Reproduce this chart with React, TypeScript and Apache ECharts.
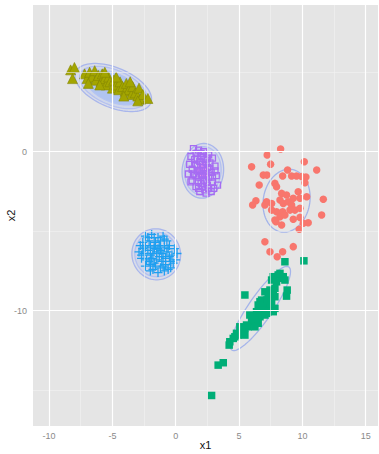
import React, { useEffect, useRef } from "react";
import * as echarts from "echarts";

// ---- data ----
const redPts: number[][] = [
  [8.28, 0.17], [7.22, -0.21], [7.49, -0.78], [5.99, -0.95], [10.15, -0.63], [11.13, -1.15],
  [8.83, -1.15], [6.91, -1.47], [7.2, -1.47], [8.44, -1.53], [9.15, -1.53], [9.54, -1.53],
  [9.94, -1.56], [10.28, -1.59], [10.2, -1.95], [7.83, -1.99], [6.59, -2.09], [7.96, -2.2],
  [8.36, -2.62], [8.75, -2.72], [9.67, -2.52], [9.28, -2.93], [9.81, -2.93], [10.34, -2.83],
  [11.65, -2.99], [6.33, -3.08], [6.07, -3.35], [7.17, -3.14], [7.57, -3.25], [8.23, -3.04],
  [8.49, -3.25], [8.88, -3.14], [9.15, -3.35], [7.04, -3.35], [7.57, -3.67], [7.96, -3.77],
  [8.44, -3.77], [9.02, -3.67], [9.41, -3.67], [9.81, -3.56], [8.23, -4.09], [8.62, -3.98],
  [7.83, -4.3], [9.28, -4.25], [9.81, -4.13], [11.52, -3.98], [8.36, -4.61], [7.91, -4.4],
  [10.07, -4.5], [10.46, -4.47], [9.75, -4.88], [7.04, -5.66], [7.44, -6.29], [8.01, -6.6],
  [8.44, -6.29], [9.28, -5.97],
];

const oliveTri: number[][] = [
  [-8.3, 5.15], [-8.0, 5.3], [-8.15, 4.6],
  [-7.2, 4.9], [-7.0, 4.6], [-6.8, 5.0], [-6.6, 4.7], [-6.4, 5.1], [-6.3, 4.5], [-6.1, 4.8],
  [-5.9, 4.4], [-5.8, 4.9], [-5.6, 4.6], [-5.5, 4.2], [-5.3, 4.7], [-5.2, 4.4], [-5.0, 4.0],
  [-4.9, 4.5], [-4.7, 4.2], [-4.5, 3.9], [-4.4, 4.4], [-4.2, 4.1], [-4.0, 3.8], [-3.9, 4.3],
  [-3.7, 3.9], [-3.5, 3.6], [-3.4, 4.1], [-3.2, 3.7], [-3.0, 3.5], [-2.9, 4.0], [-2.8, 3.3],
  [-2.6, 3.6], [-2.2, 3.35], [-3.0, 3.2], [-6.9, 4.3], [-6.0, 4.2], [-5.6, 5.0], [-4.7, 4.7],
  [-4.1, 3.5], [-3.6, 4.4],
];

const greenSq: number[][] = [
  [8.62, -6.92], [10.12, -6.86], [7.7, -7.86], [8.09, -7.75], [8.36, -7.96], [8.62, -8.07],
  [7.57, -8.07], [7.96, -8.18], [8.8, -8.7], [8.75, -9.08], [5.46, -9.01], [7.44, -8.7],
  [7.04, -8.81], [7.3, -9.01], [7.7, -8.91], [7.83, -8.59], [7.83, -9.12], [7.3, -9.33],
  [6.78, -9.33], [7.17, -9.33], [7.57, -9.43], [6.65, -9.43], [6.51, -9.64], [6.91, -9.75],
  [7.44, -9.75], [7.83, -9.85], [7.7, -10.06], [6.78, -10.06], [6.38, -10.06], [7.17, -10.16],
  [6.65, -10.38], [6.25, -10.48], [5.85, -10.27], [5.99, -10.69], [6.51, -10.79], [6.25, -11.01],
  [5.72, -11.01], [5.46, -11.11], [5.06, -11.01], [5.33, -11.42], [4.93, -11.53], [4.67, -11.64],
  [5.46, -11.53], [4.27, -11.95], [4.22, -12.16], [3.35, -13.42], [3.75, -13.27], [2.83, -15.33],
  [6.91, -9.96], [7.3, -10.06], [7.04, -10.27], [6.12, -10.48], [5.59, -10.9], [5.2, -11.11],
  [4.8, -11.42], [4.54, -11.74], [8.23, -7.65], [8.49, -7.86],
];

const blueCross: number[][] = [
  [-2.4, -5.3], [-1.9, -5.2], [-1.4, -5.4], [-1.0, -5.3], [-2.1, -5.6], [-1.6, -5.7], [-1.2, -5.6],
  [-0.7, -5.6], [-2.8, -5.9], [-2.4, -6.0], [-2.0, -5.9], [-1.7, -6.1], [-1.3, -5.9], [-0.9, -6.0],
  [-0.5, -5.9], [-0.1, -6.1], [-2.9, -6.3], [-2.5, -6.4], [-2.2, -6.2], [-1.8, -6.4], [-1.5, -6.3],
  [-1.1, -6.4], [-0.7, -6.3], [-0.3, -6.5], [0.1, -6.4], [-2.7, -6.7], [-2.3, -6.8], [-1.9, -6.7],
  [-1.5, -6.8], [-1.1, -6.9], [-0.8, -6.7], [-0.4, -6.9], [0.0, -6.8], [-2.4, -7.2], [-2.0, -7.1],
  [-1.6, -7.2], [-1.2, -7.3], [-0.8, -7.1], [-0.4, -7.3], [-2.0, -7.5], [-1.4, -7.6], [-0.9, -7.5],
  [-1.7, -6.0], [-1.0, -6.6], [-2.6, -6.1],
  [-2.2, -5.4], [-1.7, -5.4], [-0.9, -5.5], [-2.6, -5.7], [-1.4, -6.1], [-0.6, -6.1], [-2.0, -6.5],
  [-1.3, -6.6], [-0.5, -6.6], [-2.1, -6.9], [-1.7, -7.0], [-1.0, -7.2], [-0.2, -7.0], [-2.7, -6.5],
  [-1.8, -7.4], [-0.6, -7.4], [-1.6, -5.9], [-1.2, -6.2],
];

const purpleSq: number[][] = [
  [1.4, 0.2], [1.8, 0.1], [2.2, 0.0], [1.6, -0.1], [2.6, -0.2], [1.2, -0.3], [2.0, -0.3], [2.9, -0.4],
  [1.5, -0.5], [1.9, -0.6], [2.3, -0.5], [2.7, -0.7], [1.1, -0.8], [1.7, -0.9], [2.1, -0.8],
  [2.5, -1.0], [3.1, -0.9], [1.3, -1.1], [1.9, -1.2], [2.3, -1.2], [2.8, -1.3], [1.0, -1.4],
  [1.6, -1.5], [2.1, -1.5], [2.6, -1.6], [3.2, -1.5], [1.3, -1.8], [1.8, -1.9], [2.4, -1.9],
  [2.9, -1.9], [1.6, -2.2], [2.1, -2.2], [2.6, -2.3], [3.0, -2.3], [3.3, -2.1], [1.9, -2.5],
  [2.4, -2.6], [2.8, -2.5], [2.2, -1.0], [2.0, -1.4], [2.4, -1.4], [1.7, -1.2],
  [1.5, -0.8], [2.0, -0.1], [2.4, -0.7], [1.8, -1.6], [2.2, -1.8], [2.7, -1.1], [1.4, -1.4],
  [2.9, -1.6], [2.0, -2.0], [2.5, -2.1], [1.7, -0.4], [2.5, -0.4], [1.2, -1.9], [3.1, -1.2],
  [2.3, -2.4], [1.8, -2.3],
];

// ellipse per cluster: olive, purple, blue, red, green
const ellCx = [-4.93, 2.14, -1.54, 8.75, 6.68];
const ellCy = [4.04, -1.2, -6.45, -3.08, -9.86];
const ellAx = [2.96, 1.64, 1.92, 1.85, 2.25];
const ellAy = [-0.975, 0.0, -0.12, 0.0, 2.61];
const ellBx = [-0.6, 0.08, 0.1, 0.2, 0.78];
const ellBy = [-1.16, 1.72, 1.6, 1.98, -0.43];

// rings drawn around each cluster
const ringCluster = [0, 0, 0, 1, 1, 1, 2, 2, 3, 4];
const ringScale = [1.0, 0.88, 0.72, 1.0, 0.88, 0.3, 1.0, 0.88, 1.0, 1.0];
const ringFill = [
  "rgba(185,198,240,0.30)", "rgba(185,198,240,0.25)", "rgba(150,180,245,0.55)",
  "rgba(185,198,240,0.30)", "rgba(185,198,240,0.25)", "rgba(245,95,235,0.6)",
  "rgba(185,198,240,0.30)", "rgba(185,198,240,0.30)",
  "rgba(0,0,0,0)", "rgba(0,0,0,0)",
];
const ringStroke = [
  "#A9B6EC", "#B4C0F0", "#B4C4F2",
  "#A9B6EC", "#B4C0F0", "rgba(0,0,0,0)",
  "#A9B6EC", "#B4C0F0",
  "#A4B4EA", "#A4B4EA",
];

const xMajor = [-10, -5, 0, 5, 10, 15];
const xMinor = [-7.5, -2.5, 2.5, 7.5, 12.5];
const yMajor = [-10, 0];
const yMinor = [-15, -5, 5];

const labelFont = "'Liberation Sans', Arial, sans-serif";

export default function App() {
  const ref = useRef<HTMLDivElement>(null);
  useEffect(() => {
    document.body.style.margin = "0";
    if (!ref.current) return;
    const chart = echarts.init(ref.current, null, { renderer: "svg" });

    const plusPath = "path://M4.3,0h1.4v4.3h4.3v1.4h-4.3v4.3h-1.4v-4.3h-4.3v-1.4h4.3z";

    const ringData = ringCluster.map((c, k) => [ellCx[c], ellCy[c], k]);

    const option: any = {
      animation: false,
      grid: {
        left: 33, top: 5, right: 1, bottom: 28,
        containLabel: false, outerBoundsMode: "none",
        show: true, backgroundColor: "#E5E5E5", borderWidth: 0,
      },
      xAxis: {
        type: "value", min: -11.27, max: 15.97,
        name: "x1", nameLocation: "middle", nameGap: 13, nameMoveOverlap: false,
        nameTextStyle: { fontSize: 11, color: "#111", fontFamily: labelFont },
        axisLine: { show: false },
        axisTick: { show: true, customValues: xMajor, length: 3, lineStyle: { color: "#8a8a8a" } },
        axisLabel: { customValues: xMajor, color: "#8a8a8a", fontSize: 9, margin: 5, fontFamily: labelFont },
        splitLine: { show: false },
      },
      yAxis: {
        type: "value", min: -17.25, max: 9.23,
        name: "x2", nameLocation: "middle", nameGap: 17, nameRotate: 90, nameMoveOverlap: false,
        nameTextStyle: { fontSize: 11, color: "#111", fontFamily: labelFont },
        axisLine: { show: false },
        axisTick: { show: true, customValues: yMajor, length: 3, lineStyle: { color: "#8a8a8a" } },
        axisLabel: { customValues: yMajor, color: "#8a8a8a", fontSize: 9, margin: 6, fontFamily: labelFont },
        splitLine: { show: false },
      },
      series: [
        {
          type: "scatter", data: [], z: 0, silent: true,
          markLine: {
            silent: true, symbol: ["none", "none"], label: { show: false },
            animation: false,
            data: [
              ...xMinor.map((v) => ({ xAxis: v, lineStyle: { color: "#F2F2F2", width: 0.6, type: "solid" } })),
              ...yMinor.map((v) => ({ yAxis: v, lineStyle: { color: "#F2F2F2", width: 0.6, type: "solid" } })),
              ...xMajor.map((v) => ({ xAxis: v, lineStyle: { color: "#FFFFFF", width: 1.2, type: "solid" } })),
              ...yMajor.map((v) => ({ yAxis: v, lineStyle: { color: "#FFFFFF", width: 1.2, type: "solid" } })),
            ],
          },
        },
        {
          type: "custom", z: 1, silent: true,
          encode: { x: 0, y: 1 },
          data: ringData,
          renderItem: (params: any, api: any) => {
            const k = params.dataIndex;
            const c = ringCluster[k];
            const s = ringScale[k];
            const pts: number[][] = [];
            const n = 90;
            for (let t = 0; t < n; t++) {
              const a = (2 * Math.PI * t) / n;
              const cs = Math.cos(a), sn = Math.sin(a);
              pts.push(api.coord([
                ellCx[c] + s * (ellAx[c] * cs + ellBx[c] * sn),
                ellCy[c] + s * (ellAy[c] * cs + ellBy[c] * sn),
              ]));
            }
            return {
              type: "polygon",
              shape: { points: pts },
              style: { fill: ringFill[k], stroke: ringStroke[k], lineWidth: 1.3 },
              silent: true,
            };
          },
        },
        {
          type: "scatter", z: 2, data: oliveTri, symbol: "triangle", symbolSize: 10,
          itemStyle: { color: "#A3A500", borderColor: "#858700", borderWidth: 0.6, opacity: 1 },
        },
        {
          type: "scatter", z: 2, data: purpleSq, symbol: "rect", symbolSize: 6,
          itemStyle: { color: "rgba(0,0,0,0)", borderColor: "#A66CF2", borderWidth: 1.3, opacity: 1 },
        },
        {
          type: "scatter", z: 2, data: blueCross, symbol: plusPath, symbolSize: 9,
          itemStyle: { color: "#1E9FF0", opacity: 1 },
        },
        {
          type: "scatter", z: 2, data: redPts, symbol: "circle", symbolSize: 7.5,
          itemStyle: { color: "#F8766D", opacity: 1 },
        },
        {
          type: "scatter", z: 2, data: greenSq, symbol: "rect", symbolSize: 7.5,
          itemStyle: { color: "#00AE77", opacity: 1 },
        },
      ],
    };
    chart.setOption(option);
    return () => chart.dispose();
  }, []);
  return (
    <div
      ref={ref}
      style={{ position: "fixed", left: 0, top: 0, width: 379, height: 454, background: "#fff" }}
    />
  );
}
